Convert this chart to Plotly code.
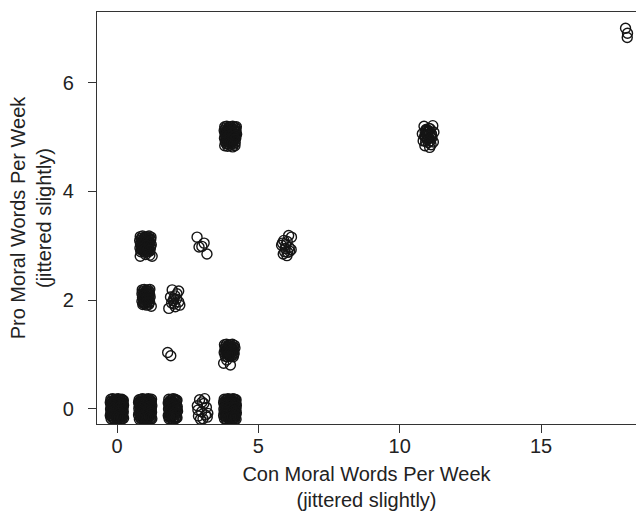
import plotly.graph_objects as go

# ---- data: jittered (Con, Pro) moral words per week ----
# Pro = 0 row, Con = 0 (dense block)
con_p0_c0 = [-0.22, -0.15, -0.09, -0.02, 0.04, 0.11, 0.17, 0.22,
             -0.24, -0.17, -0.11, -0.04, 0.02, 0.08, 0.14, 0.21,
             -0.21, -0.14, -0.08, -0.01, 0.05, 0.12, 0.18, 0.23,
             -0.23, -0.16, -0.10, -0.03, 0.03, 0.09, 0.15, 0.21,
             -0.22, -0.15, -0.09, -0.02, 0.04, 0.10, 0.17, 0.22,
             -0.24, -0.17, -0.11, -0.04, 0.02, 0.08, 0.14, 0.20,
             -0.21, -0.14, -0.08, -0.01, 0.05, 0.11, 0.18, 0.23,
             -0.19, -0.12, -0.06, 0.01, 0.07, 0.13, 0.20,
             -0.20, -0.13, -0.05, 0.00, 0.06, 0.14, 0.19,
             -0.18, -0.12, -0.06, 0.02, 0.08, 0.13, 0.20,
             -0.19, -0.13, -0.05, 0.01, 0.07, 0.14, 0.19,
             -0.20, -0.12, -0.06, 0.00, 0.06, 0.13, 0.20,
             -0.18, -0.13, -0.05, 0.02, 0.08, 0.14, 0.19]
pro_p0_c0 = [0.18, 0.19, 0.17, 0.18, 0.19, 0.17, 0.18, 0.16,
             0.12, 0.11, 0.13, 0.12, 0.11, 0.13, 0.12, 0.11,
             0.06, 0.07, 0.05, 0.06, 0.07, 0.05, 0.06, 0.07,
             0.00, -0.01, 0.01, 0.00, -0.01, 0.01, 0.00, 0.02,
             -0.06, -0.05, -0.07, -0.06, -0.05, -0.07, -0.06, -0.05,
             -0.12, -0.13, -0.11, -0.12, -0.13, -0.11, -0.12, -0.13,
             -0.18, -0.17, -0.19, -0.18, -0.17, -0.19, -0.18, -0.17,
             0.15, 0.14, 0.16, 0.15, 0.14, 0.16, 0.15,
             0.09, 0.10, 0.08, 0.09, 0.10, 0.08, 0.09,
             0.03, 0.02, 0.04, 0.03, 0.02, 0.04, 0.03,
             -0.03, -0.04, -0.02, -0.03, -0.04, -0.02, -0.03,
             -0.09, -0.08, -0.10, -0.09, -0.08, -0.10, -0.09,
             -0.15, -0.16, -0.14, -0.15, -0.16, -0.14, -0.15]
# Pro = 0 row, Con = 1 (dense block)
con_p0_c1 = [0.78, 0.85, 0.91, 0.98, 1.04, 1.11, 1.17, 1.22,
             0.76, 0.83, 0.89, 0.96, 1.02, 1.08, 1.14, 1.21,
             0.79, 0.86, 0.92, 0.99, 1.05, 1.12, 1.18, 1.23,
             0.77, 0.84, 0.90, 0.97, 1.03, 1.09, 1.15, 1.21,
             0.78, 0.85, 0.91, 0.98, 1.04, 1.10, 1.17, 1.22,
             0.76, 0.83, 0.89, 0.96, 1.02, 1.08, 1.14, 1.20,
             0.79, 0.86, 0.92, 0.99, 1.05, 1.11, 1.18, 1.23,
             0.81, 0.88, 0.94, 1.01, 1.07, 1.13, 1.20,
             0.80, 0.87, 0.95, 1.00, 1.06, 1.14, 1.19,
             0.82, 0.88, 0.94, 1.02, 1.08, 1.13, 1.20,
             0.81, 0.87, 0.95, 1.01, 1.07, 1.14, 1.19,
             0.80, 0.88, 0.94, 1.00, 1.06, 1.13, 1.20,
             0.82, 0.87, 0.95, 1.02, 1.08, 1.14, 1.19]
pro_p0_c1 = [0.17, 0.18, 0.19, 0.17, 0.18, 0.19, 0.17, 0.18,
             0.12, 0.13, 0.11, 0.12, 0.13, 0.11, 0.12, 0.13,
             0.05, 0.06, 0.07, 0.05, 0.06, 0.07, 0.05, 0.06,
             0.01, 0.00, -0.01, 0.01, 0.00, -0.01, 0.01, 0.00,
             -0.07, -0.06, -0.05, -0.07, -0.06, -0.05, -0.07, -0.06,
             -0.11, -0.12, -0.13, -0.11, -0.12, -0.13, -0.11, -0.12,
             -0.19, -0.18, -0.17, -0.19, -0.18, -0.17, -0.19, -0.18,
             0.14, 0.15, 0.16, 0.14, 0.15, 0.16, 0.14,
             0.10, 0.09, 0.08, 0.10, 0.09, 0.08, 0.10,
             0.02, 0.03, 0.04, 0.02, 0.03, 0.04, 0.02,
             -0.04, -0.03, -0.02, -0.04, -0.03, -0.02, -0.04,
             -0.08, -0.09, -0.10, -0.08, -0.09, -0.10, -0.08,
             -0.16, -0.15, -0.14, -0.16, -0.15, -0.14, -0.16]
# Pro = 0 row, Con = 2
con_p0_c2 = [1.83, 1.91, 1.98, 2.05, 2.12,
             1.81, 1.88, 1.96, 2.03, 2.10,
             1.84, 1.92, 1.99, 2.07, 2.13,
             1.82, 1.89, 1.97, 2.04, 2.11,
             1.85, 1.93, 2.00, 2.08, 2.14,
             1.81, 1.88, 1.95, 2.02, 2.09,
             1.84, 1.91, 1.98, 2.06, 2.12,
             1.87, 1.95, 2.02, 2.09,
             1.85, 1.94, 2.01, 2.08,
             1.88, 1.96, 2.03, 2.10,
             1.86, 1.93, 2.01, 2.08,
             1.87, 1.95, 2.02, 2.10,
             1.85, 1.94, 2.01, 2.09]
pro_p0_c2 = [0.18, 0.17, 0.19, 0.18, 0.16,
             0.11, 0.13, 0.12, 0.11, 0.13,
             0.06, 0.05, 0.07, 0.06, 0.04,
             0.00, 0.01, -0.01, 0.02, 0.00,
             -0.06, -0.05, -0.07, -0.06, -0.04,
             -0.12, -0.13, -0.11, -0.12, -0.14,
             -0.18, -0.17, -0.19, -0.18, -0.16,
             0.15, 0.14, 0.16, 0.15,
             0.09, 0.08, 0.10, 0.09,
             0.03, 0.04, 0.02, 0.03,
             -0.03, -0.02, -0.04, -0.03,
             -0.09, -0.10, -0.08, -0.09,
             -0.15, -0.14, -0.16, -0.15]
# Pro = 0 row, Con = 3 (sparse)
con_p0_c3 = [2.92, 3.10, 2.84, 3.16, 2.99, 3.21, 2.88, 3.04, 3.19, 2.95, 3.07, 2.86, 3.13, 3.01]
pro_p0_c3 = [0.17, 0.19, 0.06, 0.03, -0.05, -0.08, -0.13, -0.18, -0.15, -0.19, 0.10, -0.02, -0.11, 0.13]
# Pro = 0 row, Con = 4 (dense block)
con_p0_c4 = [3.79, 3.85, 3.92, 3.98, 4.04, 4.10, 4.16, 4.21,
             3.77, 3.84, 3.90, 3.96, 4.02, 4.08, 4.14, 4.20,
             3.80, 3.86, 3.93, 3.99, 4.05, 4.11, 4.17, 4.22,
             3.78, 3.84, 3.91, 3.97, 4.03, 4.09, 4.15, 4.21,
             3.79, 3.86, 3.92, 3.98, 4.04, 4.10, 4.16, 4.22,
             3.77, 3.84, 3.90, 3.96, 4.02, 4.08, 4.14, 4.20,
             3.80, 3.86, 3.93, 3.99, 4.05, 4.11, 4.17, 4.21,
             3.82, 3.88, 3.95, 4.01, 4.07, 4.13, 4.19,
             3.81, 3.87, 3.94, 4.00, 4.06, 4.12, 4.18,
             3.83, 3.89, 3.96, 4.02, 4.08, 4.14, 4.19,
             3.82, 3.88, 3.95, 4.01, 4.07, 4.13, 4.18,
             3.81, 3.87, 3.94, 4.00, 4.06, 4.12, 4.19,
             3.83, 3.89, 3.96, 4.02, 4.08, 4.14, 4.18]
pro_p0_c4 = [0.18, 0.17, 0.19, 0.18, 0.17, 0.19, 0.18, 0.17,
             0.12, 0.11, 0.13, 0.12, 0.11, 0.13, 0.12, 0.11,
             0.06, 0.07, 0.05, 0.06, 0.07, 0.05, 0.06, 0.07,
             0.00, 0.01, -0.01, 0.00, 0.01, -0.01, 0.00, 0.01,
             -0.06, -0.07, -0.05, -0.06, -0.07, -0.05, -0.06, -0.07,
             -0.12, -0.11, -0.13, -0.12, -0.11, -0.13, -0.12, -0.11,
             -0.18, -0.19, -0.17, -0.18, -0.19, -0.17, -0.18, -0.19,
             0.15, 0.16, 0.14, 0.15, 0.16, 0.14, 0.15,
             0.09, 0.08, 0.10, 0.09, 0.08, 0.10, 0.09,
             0.03, 0.04, 0.02, 0.03, 0.04, 0.02, 0.03,
             -0.03, -0.02, -0.04, -0.03, -0.02, -0.04, -0.03,
             -0.09, -0.10, -0.08, -0.09, -0.10, -0.08, -0.09,
             -0.15, -0.14, -0.16, -0.15, -0.14, -0.16, -0.15]

# Pro = 1 row (Con clusters at 2 and 4)
con_p1 = [1.79, 1.90,
          3.80, 3.87, 3.94, 4.01, 4.08, 4.15,
          3.82, 3.89, 3.96, 4.03, 4.10, 4.17,
          3.79, 3.86, 3.93, 4.00, 4.07, 4.14,
          3.83, 3.90, 3.97, 4.04, 4.11,
          3.84, 3.91, 3.98, 4.05, 4.12,
          3.83, 3.90, 3.97, 4.04, 4.11,
          3.85, 3.92, 3.99, 4.06, 4.13,
          3.77, 4.01, 3.88]
pro_p1 = [1.04, 0.98,
          1.18, 1.19, 1.17, 1.18, 1.19, 1.17,
          1.11, 1.10, 1.12, 1.11, 1.10, 1.12,
          1.04, 1.05, 1.03, 1.04, 1.05, 1.03,
          0.97, 0.96, 0.98, 0.97, 0.96,
          1.15, 1.14, 1.16, 1.15, 1.14,
          1.08, 1.07, 1.09, 1.08, 1.07,
          1.01, 1.00, 1.02, 1.01, 1.00,
          0.84, 0.81, 0.90]

# Pro = 2 row (Con clusters at 1 and 2)
con_p2 = [0.89, 0.96, 1.03, 1.10, 1.16,
          0.88, 0.95, 1.02, 1.09, 1.15,
          0.90, 0.97, 1.04, 1.11, 1.17,
          0.88, 0.95, 1.02, 1.09, 1.15,
          0.91, 0.98, 1.05, 1.12, 1.21,
          0.92, 0.99, 1.06, 1.13,
          0.91, 0.98, 1.05, 1.12,
          0.93, 1.00, 1.07, 1.14,
          0.92, 0.99, 1.06, 1.13,
          1.95, 2.18, 2.01, 2.18, 1.83, 2.06, 2.22, 1.89, 2.05, 1.98, 2.10, 1.93, 2.12, 2.02]
pro_p2 = [2.19, 2.20, 2.18, 2.19, 2.20,
          2.12, 2.11, 2.13, 2.12, 2.11,
          2.05, 2.06, 2.04, 2.05, 2.06,
          1.98, 1.97, 1.99, 1.98, 1.97,
          1.92, 1.93, 1.91, 1.92, 1.89,
          2.16, 2.15, 2.17, 2.16,
          2.09, 2.08, 2.10, 2.09,
          2.02, 2.01, 2.03, 2.02,
          1.95, 1.94, 1.96, 1.95,
          2.19, 2.17, 2.03, 1.97, 1.85, 1.88, 1.91, 2.06, 2.08, 1.99, 2.02, 1.95, 2.12, 1.93]

# Pro = 3 row (Con clusters at 1, 3 and 6)
con_p3 = [0.82, 0.90, 0.98, 1.06, 1.13, 1.20,
          0.80, 0.88, 0.96, 1.03, 1.11, 1.19,
          0.83, 0.91, 0.99, 1.07, 1.14, 1.21,
          0.81, 0.89, 0.97, 1.04, 1.12, 1.18,
          0.84, 0.92, 1.00, 1.08, 1.15,
          0.86, 0.94, 1.02, 1.10, 1.17,
          0.84, 0.92, 1.00, 1.08, 1.16,
          0.86, 0.95, 1.03, 1.11, 1.18,
          0.85, 0.93, 1.01, 1.10, 1.16,
          0.82, 1.24, 1.01, 1.16,
          2.83, 3.08, 2.90, 3.00, 3.18,
          6.07, 6.17, 5.90, 5.82, 5.95, 6.11, 5.88, 6.01, 6.16, 5.85, 6.04,
          6.02, 5.97, 6.09, 5.93]
pro_p3 = [3.17, 3.18, 3.16, 3.17, 3.18, 3.16,
          3.10, 3.09, 3.11, 3.10, 3.09, 3.11,
          3.03, 3.04, 3.02, 3.03, 3.04, 3.02,
          2.96, 2.95, 2.97, 2.96, 2.95, 2.97,
          2.89, 2.90, 2.88, 2.89, 2.90,
          3.14, 3.13, 3.15, 3.14, 3.13,
          3.07, 3.06, 3.08, 3.07, 3.06,
          3.00, 2.99, 3.01, 3.00, 2.99,
          2.93, 2.92, 2.94, 2.93, 2.92,
          2.81, 2.81, 2.84, 2.83,
          3.16, 3.05, 2.98, 2.99, 2.85,
          3.19, 3.16, 3.10, 3.01, 2.95, 2.90, 2.85, 2.82, 2.93, 3.05, 2.88,
          3.08, 3.02, 2.97, 2.89]

# Pro = 5 row (Con clusters at 4 and 11)
con_p5 = [3.81, 3.88, 3.95, 4.02, 4.09, 4.16, 4.22,
          3.79, 3.86, 3.93, 4.00, 4.07, 4.14, 4.21,
          3.82, 3.89, 3.96, 4.03, 4.10, 4.17, 4.23,
          3.80, 3.87, 3.94, 4.01, 4.08, 4.15, 4.20,
          3.83, 3.90, 3.97, 4.04, 4.11, 4.18,
          3.81, 3.91, 4.00, 4.09, 4.17,
          3.84, 3.91, 3.98, 4.05, 4.12, 4.19,
          3.83, 3.90, 3.97, 4.04, 4.11, 4.18,
          3.85, 3.92, 3.99, 4.06, 4.13, 4.20,
          3.84, 3.91, 3.98, 4.05, 4.12, 4.17,
          3.86, 3.93, 4.00, 4.07, 4.14,
          10.86, 11.17, 10.95, 11.08, 10.80, 11.21, 10.91, 11.03, 11.13, 10.83, 10.99, 11.19,
          10.89, 11.06, 10.97, 11.11, 10.94, 11.02, 11.10, 10.98, 11.05, 10.90, 11.00, 11.08,
          10.93, 11.04, 11.12, 10.88, 11.01, 10.96, 11.14, 10.92]
pro_p5 = [5.19, 5.20, 5.18, 5.19, 5.20, 5.18, 5.19,
          5.12, 5.11, 5.13, 5.12, 5.11, 5.13, 5.12,
          5.05, 5.06, 5.04, 5.05, 5.06, 5.04, 5.05,
          4.98, 4.97, 4.99, 4.98, 4.97, 4.99, 4.98,
          4.91, 4.92, 4.90, 4.91, 4.92, 4.90,
          4.84, 4.83, 4.85, 4.82, 4.84,
          5.16, 5.15, 5.17, 5.16, 5.15, 5.17,
          5.09, 5.08, 5.10, 5.09, 5.08, 5.10,
          5.02, 5.01, 5.03, 5.02, 5.01, 5.03,
          4.95, 4.94, 4.96, 4.95, 4.94, 4.96,
          4.88, 4.87, 4.89, 4.88, 4.87,
          5.20, 5.21, 5.13, 5.15, 5.06, 5.09, 5.02, 4.98, 5.04, 4.93, 5.10, 4.91,
          4.84, 4.81, 4.95, 4.86, 5.05, 5.12, 5.00, 4.97, 5.07, 5.10, 5.03, 4.93,
          5.14, 5.16, 5.06, 5.01, 4.90, 5.09, 4.99, 4.92]

# Pro = 7 row (Con cluster at 18)
con_p7 = [17.99, 18.06, 18.05]
pro_p7 = [7.00, 6.91, 6.83]

x_ticks = [0, 5, 10, 15]
y_ticks = [0, 2, 4, 6]
x_title = "Con Moral Words Per Week<br>(jittered slightly)"
y_title = "Pro Moral Words Per Week<br>(jittered slightly)"

con_all = (con_p0_c0 + con_p0_c1 + con_p0_c2 + con_p0_c3 + con_p0_c4
           + con_p1 + con_p2 + con_p3 + con_p5 + con_p7)
pro_all = (pro_p0_c0 + pro_p0_c1 + pro_p0_c2 + pro_p0_c3 + pro_p0_c4
           + pro_p1 + pro_p2 + pro_p3 + pro_p5 + pro_p7)

FONT = "Liberation Sans, Arial, sans-serif"
AX = "#333333"
TXT = "#222222"
FS = 20

fig = go.Figure(go.Scatter(
    x=con_all, y=pro_all, mode="markers",
    marker=dict(symbol="circle-open", size=10, color="#151515",
                line=dict(width=1.4, color="#151515")),
    showlegend=False, hoverinfo="x+y",
))

fig.update_layout(
    width=636, height=513,
    margin=dict(l=97, r=0, t=12, b=89),
    paper_bgcolor="white", plot_bgcolor="white",
    font=dict(family=FONT, size=FS, color=TXT),
)
fig.update_xaxes(
    range=[-0.71, 18.36], tickvals=x_ticks, ticktext=[str(v) for v in x_ticks],
    ticks="outside", ticklen=8, tickwidth=1.2, tickcolor=AX,
    showline=True, linecolor=AX, linewidth=1.3, mirror=True,
    showgrid=False, zeroline=False,
    tickfont=dict(size=FS, color=TXT), ticklabelstandoff=-4,
    title=dict(text=x_title, font=dict(size=FS, color=TXT), standoff=10),
)
fig.update_yaxes(
    range=[-0.276, 7.3], tickvals=y_ticks, ticktext=[str(v) for v in y_ticks],
    ticks="outside", ticklen=8, tickwidth=1.2, tickcolor=AX,
    showline=True, linecolor=AX, linewidth=1.3, mirror=True,
    showgrid=False, zeroline=False,
    tickfont=dict(size=FS, color=TXT), ticklabelstandoff=10,
    title=dict(text=y_title, font=dict(size=FS, color=TXT), standoff=5),
)

fig.write_html("out.html")
